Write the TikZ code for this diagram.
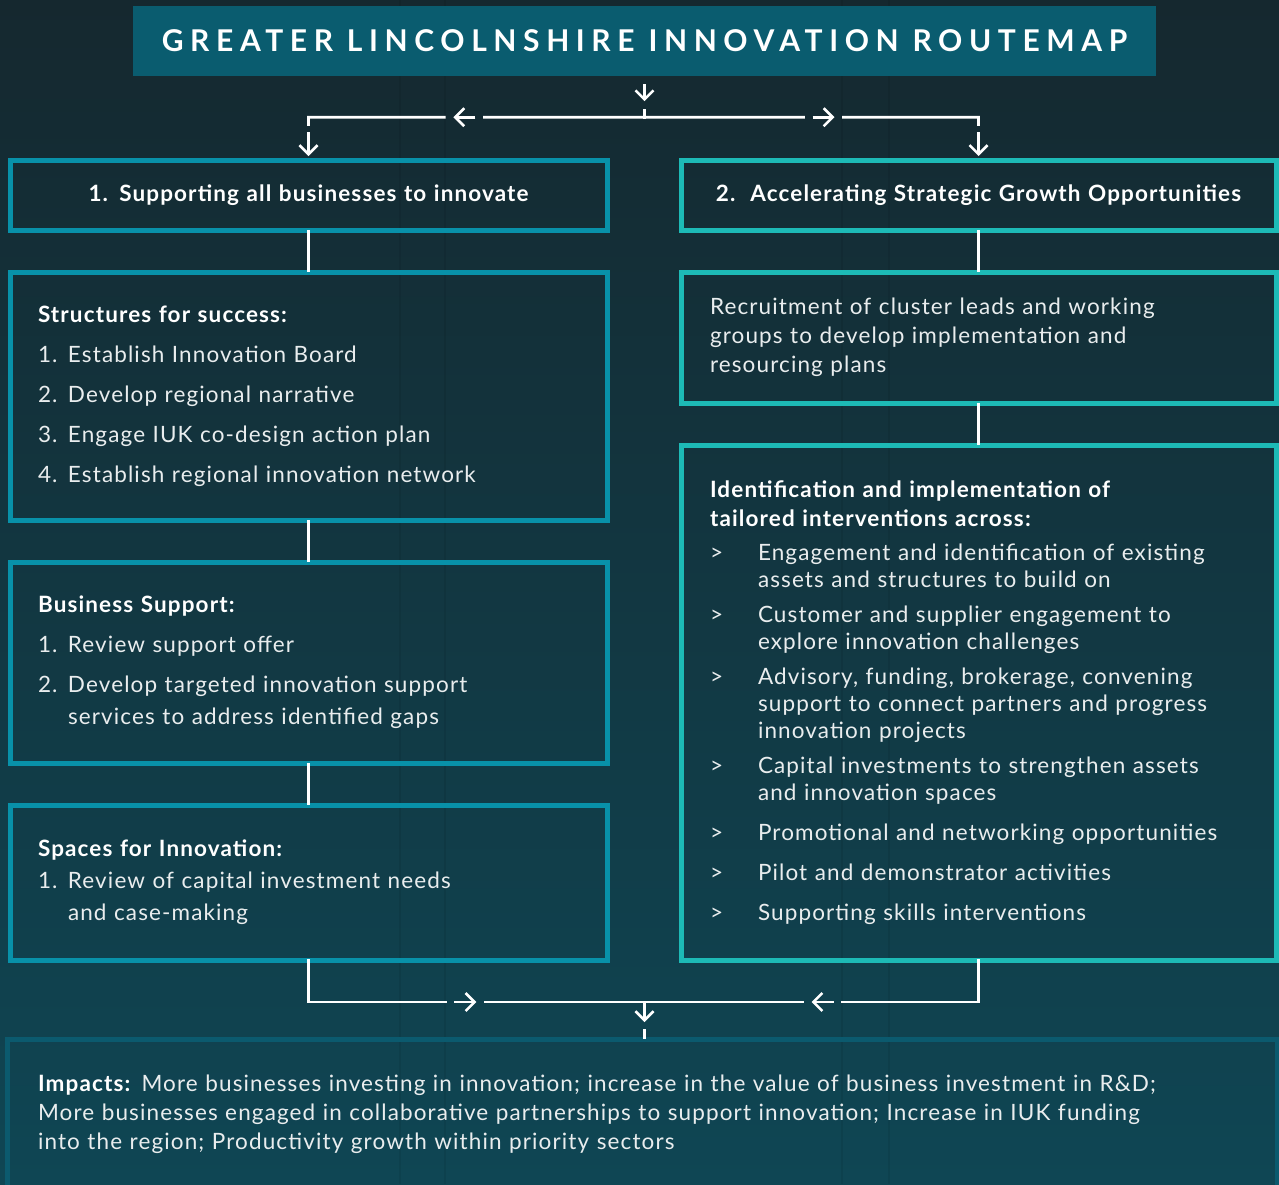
\documentclass[tikz,border=0pt]{standalone}
\usepackage{fontspec}
\setmainfont{Lato}[LetterSpace=5]
\newfontfamily\titlefont[LetterSpace=22]{Lato}
\usetikzlibrary{positioning,calc,arrows.meta}

\definecolor{bgtop}{HTML}{15282F}
\definecolor{bgbottom}{HTML}{0F4654}
\definecolor{titlefill}{HTML}{0A5C6F}
\definecolor{leftedge}{HTML}{0891A9}
\definecolor{rightedge}{HTML}{1DBAB6}
\definecolor{impactedge}{HTML}{0B5A6E}
\definecolor{bodytext}{HTML}{E9EDEE}

\newcommand{\nitem}[1]{\makebox[30pt][l]{#1}}
\newcommand{\bitem}{\makebox[48pt][l]{>}}
\newcommand{\head}[1]{\textcolor{white}{\bfseries #1}}

% line with an arrow sitting in a gap part-way along
\newcommand{\gapline}[3]{%
  \coordinate (gapmid) at ($(#1)!#3!(#2)$);
  \draw[flowline] (#1) -- ($(gapmid)!20pt!(#1)$);
  \draw[flowarrow] ($(gapmid)!11pt!(#1)$) -- ($(gapmid)!11pt!(#2)$);
  \draw[flowline] ($(gapmid)!20pt!(#2)$) -- (#2);
}

\tikzset{
  box/.style={draw, line width=5pt, outer sep=0pt, inner xsep=28pt, inner ysep=0pt,
    align=left, text=bodytext},
  leftbox/.style={box, draw=leftedge, text width=541pt, minimum width=597pt},
  rightbox/.style={box, draw=rightedge, inner xsep=29pt, text width=537pt, minimum width=595pt},
  flowline/.style={draw=white, line width=2.6pt, line cap=rect},
  flowarrow/.style={flowline, line cap=butt, -{Straight Barb[length=9pt,width=18pt]}},
}

\begin{document}
\begin{tikzpicture}[x=1pt, y=-1pt, node distance=42pt]
  % --- Backdrop ---
  \clip (0,0) rectangle (1279,1184);
  \shade[top color=bgtop, bottom color=bgbottom] (0,0) rectangle (1279,1184);
  \foreach \sx in {400,445,842,889}
    \draw[black, opacity=0.07, line width=1.5pt] (\sx,0) -- (\sx,1184);

  % --- Title banner ---
  \node[fill=titlefill, minimum width=1023pt, minimum height=70pt, text=white,
    font=\titlefont\bfseries\fontsize{30}{30}\selectfont] (title) at (644.5,41)
    {GREATER LINCOLNSHIRE INNOVATION ROUTEMAP};

  % --- Left column: supporting businesses ---
  \node[leftbox, minimum height=70pt, align=center, font=\fontsize{22.5}{29}\selectfont] (s1) at (308.5,195)
    {\head{1. Supporting all businesses to innovate}};
  \node[leftbox, minimum height=248pt, below=of s1, font=\fontsize{22.5}{40}\selectfont] (s1a)
    {\head{Structures for success:}\\
     \nitem{1.}Establish Innovation Board\\
     \nitem{2.}Develop regional narrative\\
     \nitem{3.}Engage IUK co-design action plan\\
     \nitem{4.}Establish regional innovation network};
  \node[leftbox, minimum height=201pt, below=of s1a, font=\fontsize{22.5}{40}\selectfont] (s1b)
    {\head{Business Support:}\\
     \nitem{1.}Review support offer\\
     \nitem{2.}Develop targeted innovation support\\[-8pt]
     \hspace*{30pt}services to address identified gaps};
  \node[leftbox, minimum height=155pt, below=of s1b, font=\fontsize{22.5}{32}\selectfont] (s1c)
    {\head{Spaces for Innovation:}\\
     \nitem{1.}Review of capital investment needs\\
     \hspace*{30pt}and case-making};

  % --- Right column: strategic growth ---
  \node[rightbox, minimum height=70pt, align=center, font=\fontsize{22.5}{29}\selectfont] (s2) at (978.5,195)
    {\head{2.\ \ Accelerating Strategic Growth Opportunities}};
  \node[rightbox, minimum height=131pt, below=of s2, font=\fontsize{22.5}{29}\selectfont] (s2a)
    {Recruitment of cluster leads and working\\
     groups to develop implementation and\\
     resourcing plans};
  \node[rightbox, minimum height=515pt, below=of s2a, font=\fontsize{22.5}{27}\selectfont] (s2b)
    {\head{Identification and implementation of}\\[2pt]
     \head{tailored interventions across:}\\[7pt]
     \bitem Engagement and identification of existing\\
     \hspace*{48pt}assets and structures to build on\\[8pt]
     \bitem Customer and supplier engagement to\\
     \hspace*{48pt}explore innovation challenges\\[8pt]
     \bitem Advisory, funding, brokerage, convening\\
     \hspace*{48pt}support to connect partners and progress\\
     \hspace*{48pt}innovation projects\\[8pt]
     \bitem Capital investments to strengthen assets\\
     \hspace*{48pt}and innovation spaces\\[13pt]
     \bitem Promotional and networking opportunities\\[13pt]
     \bitem Pilot and demonstrator activities\\[13pt]
     \bitem Supporting skills interventions};

  % --- Impacts ---
  \node[box, draw=impactedge, anchor=north west, inner xsep=31pt, minimum width=1270pt,
    text width=1208pt, minimum height=150pt, font=\fontsize{22.5}{29}\selectfont] (impact) at (7,1039)
    {\head{Impacts:} More businesses investing in innovation; increase in the value of business investment in R\&D;\\
     More businesses engaged in collaborative partnerships to support innovation; Increase in IUK funding\\
     into the region; Productivity growth within priority sectors};

  % --- Split from the banner ---
  \coordinate (split) at ($(title.south)+(0,41)$);
  \coordinate (ltop) at (split -| s1.north);
  \coordinate (rtop) at (split -| s2.north);
  \draw[flowarrow] ($(title.south)+(0,8)$) -- ($(title.south)+(0,25)$);
  \draw[flowline] ($(split)+(0,-7)$) -- (split);
  \gapline{split}{ltop}{0.536}
  \gapline{split}{rtop}{0.536}
  \draw[flowline] (ltop) -- ++(0,7);
  \draw[flowline] (rtop) -- ++(0,7);
  \draw[flowarrow] ($(s1.north)+(0,-28)$) -- ($(s1.north)+(0,-4)$);
  \draw[flowarrow] ($(s2.north)+(0,-28)$) -- ($(s2.north)+(0,-4)$);

  % --- Column links ---
  \draw[flowline, line cap=butt] (s1.south) -- (s1a.north);
  \draw[flowline, line cap=butt] (s1a.south) -- (s1b.north);
  \draw[flowline, line cap=butt] (s1b.south) -- (s1c.north);
  \draw[flowline, line cap=butt] (s2.south) -- (s2a.north);
  \draw[flowline, line cap=butt] (s2a.south) -- (s2b.north);

  % --- Merge into impacts ---
  \coordinate (merge) at ($(impact.north -| title.south)+(0,-37)$);
  \coordinate (lbot) at (merge -| s1c.south);
  \coordinate (rbot) at (merge -| s2b.south);
  \draw[flowline] (s1c.south) -- (lbot);
  \draw[flowline] (s2b.south) -- (rbot);
  \gapline{lbot}{merge}{0.467}
  \gapline{rbot}{merge}{0.467}
  \draw[flowarrow] (merge) -- ++(0,20);
  \draw[flowline, line cap=butt] ($(merge)+(0,27)$) -- (impact.north -| merge);
\end{tikzpicture}
\end{document}
